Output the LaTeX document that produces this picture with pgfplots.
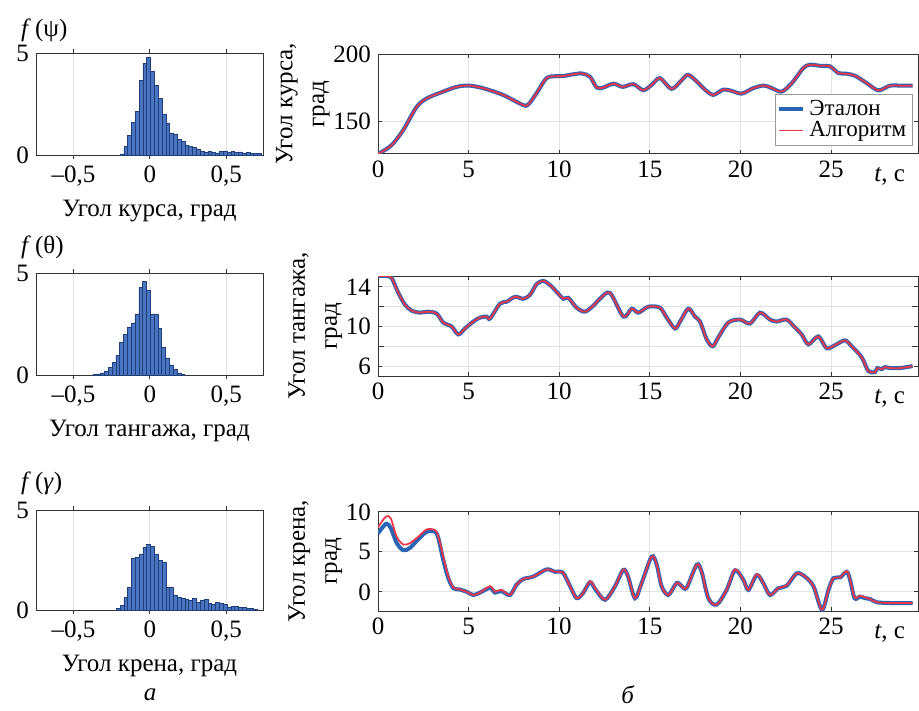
\documentclass[border=0pt]{standalone}
\usepackage{fontspec}
\setmainfont{Liberation Serif}
\usepackage{pgfplots}
\pgfplotsset{compat=1.18}
\definecolor{barblue}{HTML}{4A74C0}
\definecolor{baredge}{HTML}{1F3F7A}
\definecolor{refblue}{HTML}{2B63B5}
\definecolor{algred}{HTML}{E8384A}
\definecolor{gridc}{HTML}{E3E3E3}

\pgfplotsset{
  base/.style={scale only axis, anchor=north west,
    axis line style={draw=black!80, line width=0.5pt},
    tick style={draw=black!80, line width=0.4pt}, major tick length=2pt, tick align=inside,
    grid=major, major grid style={draw=gridc, line width=0.4pt},
    font=\fontsize{12.5}{14}\selectfont,
    /pgf/number format/assume math mode=true},
  hist/.style={base, width=113.5pt, height=51pt,
    xmin=-0.745, xmax=0.74, ymin=0, ymax=5,
    xtick={-0.5,0,0.5}, xticklabels={{–0,5},{0},{0,5}}, ytick={0,5},
    ybar, bar width=0.025},
  ts/.style={base, width=270pt, height=50pt, xmin=0, xmax=29.8,
    xtick={0,5,...,25}, ylabel shift=-5pt,
    ylabel style={align=center, font=\fontsize{12.5}{16}\selectfont}},
  ref/.style={draw=refblue, line width=2pt, smooth},
  alg/.style={draw=algred, line width=0.9pt, smooth},
}

\begin{document}
\begin{tikzpicture}[font=\fontsize{12.5}{14}\selectfont]
\path (0,0) rectangle (459.5pt,-352pt);

% histograms
\begin{axis}[hist, at={(18pt,-26.5pt)}, xlabel={Угол курса, град}]
\addplot[fill=barblue, draw=baredge, line width=0.3pt] table {
-0.183 0.05
-0.158 0.42
-0.133 0.95
-0.108 1.6
-0.083 2.14
-0.058 3.64
-0.033 4.48
-0.008 4.8
0.017 4.1
0.042 3.4
0.067 2.78
0.092 1.98
0.117 1.57
0.142 1.08
0.167 1.0
0.192 0.75
0.217 0.67
0.242 0.5
0.267 0.42
0.292 0.38
0.317 0.26
0.342 0.18
0.367 0.13
0.392 0.18
0.417 0.13
0.442 0.1
0.467 0.16
0.492 0.2
0.517 0.13
0.542 0.16
0.567 0.13
0.592 0.15
0.617 0.1
0.642 0.13
0.667 0.08
0.692 0.08
0.717 0.08
};
\end{axis}
\node[anchor=west] at (7pt,-15pt) {\textit{f}\,(ψ)};

\begin{axis}[hist, at={(18pt,-136.5pt)}, xlabel={Угол тангажа, град}]
\addplot[fill=barblue, draw=baredge, line width=0.3pt] table {
-0.36 0.03
-0.335 0.05
-0.31 0.1
-0.285 0.2
-0.26 0.36
-0.235 0.6
-0.21 0.96
-0.185 1.58
-0.16 1.99
-0.135 2.36
-0.11 2.55
-0.085 3.0
-0.06 4.3
-0.035 4.6
-0.01 4.15
0.015 3.0
0.04 2.96
0.065 2.3
0.09 1.35
0.115 0.8
0.14 0.5
0.165 0.28
0.19 0.1
0.215 0.04
};
\end{axis}
\node[anchor=west] at (7pt,-123.5pt) {\textit{f}\,(θ)};

\begin{axis}[hist, at={(18pt,-255pt)}, height=50pt, xlabel={Угол крена, град}]
\addplot[fill=barblue, draw=baredge, line width=0.3pt] table {
-0.208 0.07
-0.183 0.23
-0.158 0.62
-0.133 1.15
-0.108 2.58
-0.083 2.66
-0.058 2.78
-0.033 3.13
-0.008 3.29
0.017 3.19
0.042 2.78
0.067 2.49
0.092 2.37
0.117 1.15
0.142 1.15
0.167 0.74
0.192 0.62
0.217 0.57
0.242 0.52
0.267 0.49
0.292 0.57
0.317 0.4
0.342 0.49
0.367 0.54
0.392 0.35
0.417 0.28
0.442 0.4
0.467 0.35
0.492 0.28
0.517 0.15
0.542 0.18
0.567 0.18
0.592 0.12
0.617 0.12
0.642 0.08
0.667 0.08
0.692 0.05
};
\end{axis}
\node[anchor=west] at (7pt,-241.5pt) {\textit{f}\,(\textit{γ})};

% time series: heading
\pgfplotstableread{
t v
0 126
0.5 130
0.85 134
1.4 144
2.13 161
2.7 167.5
3.6 172.5
4.34 176
5.0 177
5.8 175
6.9 170
8.0 162.5
8.3 163
8.76 171.5
9.3 182.5
9.86 184
10.2 184
10.6 185
11.24 186
11.7 183.5
12.07 175.5
12.43 175.5
12.99 178.4
13.5 176
14.09 178
14.64 173.5
15.1 177.5
15.56 182.5
16.2 174.5
16.76 181
17.12 185
17.67 179
18.04 174
18.5 170
19.06 174
19.52 173
20.07 171
20.7 175
21.3 177
21.74 175
22.28 172.5
22.85 179
23.47 190
23.84 192.5
24.4 191.7
24.94 191.3
25.4 186.3
25.86 185.8
26.32 184.3
26.97 178.8
27.61 173.4
28.25 176.9
28.9 176.9
29.5 176.9
}\heading
\begin{axis}[ts, name=ts1, at={(189pt,-27pt)}, ymin=126, ymax=200.5, ytick={150,200},
  ylabel={Угол курса,\\град},
  legend style={at={(0.99,0.08)}, anchor=south east, draw=black!40,
    font=\fontsize{11.5}{13}\selectfont, inner sep=1pt, row sep=-2.5pt},
  legend cell align=left,
  legend image code/.code={\draw[#1] (0pt,0pt) -- (12pt,0pt);}]
\addplot[ref] table {\heading};
\addlegendentry{Эталон}
\addplot[alg] table {\heading};
\addlegendentry{Алгоритм}
\end{axis}
\node[anchor=base east] at ([xshift=-3pt,yshift=-13.8pt]ts1.south east) {\textit{t}, с};

% pitch
\pgfplotstableread{
t v
0 15.1
0.46 15.1
0.75 14.9
1.12 13.4
1.49 12.2
1.86 11.6
2.32 11.4
2.78 11.5
3.24 11.3
3.6 10.4
4.06 10.0
4.43 9.2
4.8 9.8
5.26 10.5
5.63 10.9
6.0 11.0
6.18 10.8
6.73 12.3
7.1 12.5
7.56 13.0
8.02 12.8
8.39 13.2
8.76 14.3
9.12 14.6
9.49 14.2
9.86 13.5
10.23 12.8
10.5 12.9
10.96 11.9
11.42 11.5
11.88 12.1
12.25 12.8
12.8 13.4
13.54 11.0
14.0 11.8
14.37 11.4
14.92 12.0
15.56 11.9
15.93 10.9
16.39 9.8
16.67 10.5
17.12 11.8
17.49 11.0
17.77 10.5
18.14 8.7
18.47 8.0
18.78 8.9
19.33 10.4
19.97 10.7
20.53 10.3
21.08 11.4
21.63 10.7
22.0 10.5
22.55 10.7
23.01 9.9
23.38 9.2
23.75 8.2
24.3 9.0
24.76 7.8
25.3 8.2
25.77 8.6
26.14 8.0
26.69 6.9
27.06 5.5
27.43 5.4
27.55 5.8
27.8 5.7
27.98 5.9
28.26 5.8
28.8 5.8
29.5 6.0
}\pitch
\begin{axis}[ts, name=ts2, at={(189pt,-138pt)}, ymin=5, ymax=15.1, ytick={6,10,14},
  minor ytick={8,12}, grid=both, minor grid style={draw=gridc, line width=0.4pt},
  ylabel={Угол тангажа,\\град}]
\addplot[ref] table {\pitch};
\addplot[alg] table {\pitch};
\end{axis}
\node[anchor=base east] at ([xshift=-3pt,yshift=-13.8pt]ts2.south east) {\textit{t}, с};

% roll
\pgfplotstableread{
t v
0 7.3
0.44 8.5
0.7 8.0
1.03 6.1
1.4 5.2
1.77 5.5
2.23 6.6
2.69 7.5
3.15 7.5
3.33 6.7
3.6 4.0
3.88 1.7
4.16 0.45
4.5 0.3
4.9 0
5.26 -0.4
5.63 -0.1
6.18 0.5
6.46 -0.1
6.8 0.1
7.28 -0.4
7.65 0.9
8.02 1.6
8.57 1.9
9.3 2.8
9.77 2.5
10.2 2.4
10.6 0.7
10.96 -0.8
11.3 -0.2
11.7 1.2
12.0 0.3
12.53 -1.0
13.08 0.7
13.54 2.75
13.8 1.9
14.18 -0.8
14.55 1.1
15.1 4.4
15.38 3.4
15.65 0.7
16.02 -0.4
16.48 1.1
16.76 0.7
17.03 0.5
17.59 3.4
17.86 2.5
18.23 -0.8
18.69 -1.6
19.24 0.25
19.7 2.7
20.16 1.5
20.44 0.25
20.9 2.1
21.26 1.1
21.63 -0.4
22.09 0.45
22.55 0.75
23.1 2.3
23.56 1.9
24.03 0.7
24.5 -2.25
24.86 0.25
25.13 1.7
25.5 1.8
25.87 2.5
26.05 1.5
26.3 -0.8
26.6 -0.6
26.88 -0.8
27.15 -0.9
27.52 -1.3
28.25 -1.4
29.5 -1.4
}\rollref
\pgfplotstableread{
t v
0 8.0
0.1 8.4
0.44 9.4
0.7 9.2
1.03 6.9
1.4 5.9
1.77 6.1
2.23 6.9
2.69 7.8
3.15 7.7
3.33 6.9
3.6 4.4
3.88 1.9
4.16 0.54
4.5 0.3
4.9 0
5.26 -0.4
5.63 -0.1
6.18 0.7
6.46 0
6.8 0.25
7.28 -0.4
7.65 0.9
8.02 1.6
8.57 1.9
9.3 2.8
9.77 2.5
10.2 2.4
10.6 0.7
10.96 -0.8
11.3 -0.2
11.7 1.3
12.0 0.4
12.53 -1.0
13.08 0.7
13.54 2.8
13.8 1.9
14.18 -0.8
14.55 1.1
15.1 4.4
15.38 3.4
15.65 0.7
16.02 -0.4
16.48 1.1
16.76 0.7
17.03 0.5
17.59 3.4
17.86 2.5
18.23 -0.8
18.69 -1.6
19.24 0.25
19.7 2.8
20.16 1.5
20.44 0.25
20.9 2.2
21.26 1.1
21.63 -0.4
22.09 0.45
22.55 0.8
23.1 2.3
23.56 1.9
24.03 0.7
24.5 -2.25
24.86 0.25
25.13 1.7
25.5 1.8
25.87 2.6
26.05 1.5
26.3 -0.7
26.6 -0.5
26.88 -0.7
27.15 -0.9
27.52 -1.3
28.25 -1.4
29.5 -1.4
}\rollalg
\begin{axis}[ts, name=ts3, at={(189pt,-255.5pt)}, ymin=-2.4, ymax=10.1, ytick={0,5,10},
  ylabel={Угол крена,\\град}]
\addplot[ref] table {\rollref};
\addplot[alg] table {\rollalg};
\end{axis}
\node[anchor=base east] at ([xshift=-3pt,yshift=-13.8pt]ts3.south east) {\textit{t}, с};

\node at (75pt,-347.5pt) {\textit{а}};
\node at (314pt,-347.5pt) {\textit{б}};
\end{tikzpicture}
\end{document}
